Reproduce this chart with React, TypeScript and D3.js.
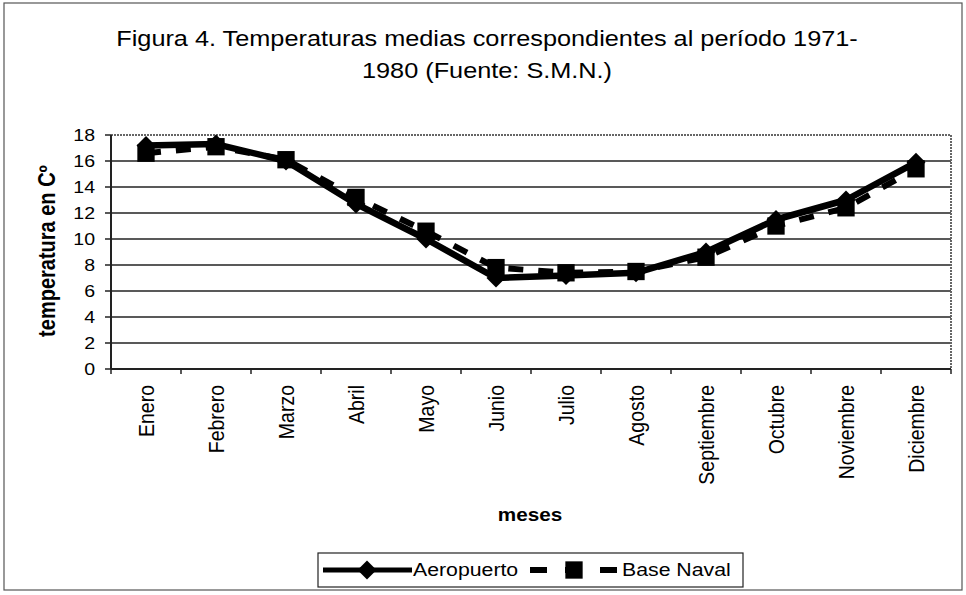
import React from 'react';
import * as d3 from 'd3';

const months = ['Enero', 'Febrero', 'Marzo', 'Abril', 'Mayo', 'Junio', 'Julio', 'Agosto', 'Septiembre', 'Octubre', 'Noviembre', 'Diciembre'];
const aeropuerto = [17.2, 17.3, 16.0, 12.7, 10.0, 7.0, 7.2, 7.4, 9.0, 11.5, 13.0, 15.9];
const baseNaval = [16.6, 17.1, 16.1, 13.2, 10.6, 7.8, 7.4, 7.5, 8.6, 11.0, 12.4, 15.4];
const yTicks = [0, 2, 4, 6, 8, 10, 12, 14, 16, 18];
const titleLines = ['Figura 4. Temperaturas medias correspondientes al período 1971-', '1980 (Fuente: S.M.N.)'];

const W = 966;
const H = 595;
const plot = { left: 111, right: 951, top: 135, bottom: 369 };
const SX = 1.15; // the scanned figure is a bit wider than tall
const FONT = 'Arial, "Liberation Sans", Helvetica, sans-serif';

const x = d3.scaleBand<string>().domain(months).range([plot.left, plot.right]);
const y = d3.scaleLinear().domain([0, 18]).range([plot.bottom, plot.top]);
const cx = (m: string) => (x(m) ?? 0) + x.bandwidth() / 2;

const line = d3
  .line<number>()
  .x((_, i) => cx(months[i]))
  .y(d => y(d));

const diamond = d3.symbol().type(d3.symbolSquare).size(180)()!;
const square = d3.symbol().type(d3.symbolSquare).size(300)()!;

const Txt: React.FC<{
  x: number;
  y: number;
  size: number;
  anchor?: string;
  bold?: boolean;
  rotate?: number;
  children: React.ReactNode;
}> = ({ x, y, size, anchor = 'start', bold, rotate = 0, children }) => (
  <g transform={`translate(${x},${y}) scale(${SX},1) rotate(${rotate})`}>
    <text
      textAnchor={anchor}
      fontSize={size}
      fontWeight={bold ? 'bold' : 'normal'}
      fontFamily={FONT}
      fill="#000"
      dy="0.35em"
    >
      {children}
    </text>
  </g>
);

const App: React.FC = () => {
  const xTicks = [...months.map(m => x(m) ?? 0), plot.right];

  return (
    <svg width={W} height={H} style={{ position: 'absolute', left: 0, top: 0, background: '#fff' }}>
      {/* outer frame */}
      <rect x={4} y={3} width={958} height={587} fill="#fff" stroke="#555" strokeWidth={1.2} />

      {/* title */}
      {titleLines.map((t, i) => (
        <Txt key={i} x={487} y={38 + i * 32} size={22} anchor="middle">
          {t}
        </Txt>
      ))}

      {/* grid */}
      {yTicks.slice(1, -1).map(t => (
        <line key={t} x1={plot.left} x2={plot.right} y1={y(t)} y2={y(t)} stroke="#222" strokeWidth={1.6} />
      ))}
      {/* plot border (top/right) */}
      <line x1={plot.left} x2={plot.right} y1={y(18)} y2={y(18)} stroke="#666" strokeWidth={2} strokeDasharray="2,1" />
      <line x1={plot.right} x2={plot.right} y1={plot.top} y2={plot.bottom} stroke="#666" strokeWidth={2} strokeDasharray="2,1" />

      {/* y axis */}
      <line x1={plot.left} x2={plot.left} y1={plot.top} y2={plot.bottom} stroke="#222" strokeWidth={2} />
      {yTicks.map(t => (
        <g key={t}>
          <line x1={plot.left - 6} x2={plot.left} y1={y(t)} y2={y(t)} stroke="#222" strokeWidth={1.5} />
          <Txt x={95} y={y(t)} size={17} anchor="end">
            {t}
          </Txt>
        </g>
      ))}
      <Txt x={47} y={251} size={20} anchor="middle" bold rotate={-90}>
        temperatura en Cº
      </Txt>

      {/* x axis */}
      <line x1={plot.left} x2={plot.right} y1={plot.bottom} y2={plot.bottom} stroke="#222" strokeWidth={2} />
      {xTicks.map((t, i) => (
        <line key={i} x1={t} x2={t} y1={plot.bottom} y2={plot.bottom + 5} stroke="#222" strokeWidth={1.5} />
      ))}
      {months.map(m => (
        <Txt key={m} x={cx(m)} y={385} size={19.5} anchor="end" rotate={-90}>
          {m}
        </Txt>
      ))}
      <Txt x={530} y={515} size={18} anchor="middle" bold>
        meses
      </Txt>

      {/* series */}
      <path d={line(aeropuerto) ?? ''} fill="none" stroke="#000" strokeWidth={6.5} strokeLinejoin="round" />
      {aeropuerto.map((v, i) => (
        <path key={i} d={diamond} transform={`translate(${cx(months[i])},${y(v)}) rotate(45)`} fill="#000" />
      ))}
      <path d={line(baseNaval) ?? ''} fill="none" stroke="#000" strokeWidth={6} strokeDasharray="15,15" />
      {baseNaval.map((v, i) => (
        <path key={i} d={square} transform={`translate(${cx(months[i])},${y(v)})`} fill="#000" />
      ))}

      {/* legend */}
      <rect x={318} y={553} width={425} height={34} fill="#fff" stroke="#222" strokeWidth={1.2} />
      <line x1={323} x2={412} y1={570} y2={570} stroke="#000" strokeWidth={5} />
      <path d={diamond} transform="translate(367,570) rotate(45)" fill="#000" />
      <Txt x={413} y={570} size={18.5}>
        Aeropuerto
      </Txt>
      <line x1={530} x2={619} y1={570} y2={570} stroke="#000" strokeWidth={6} strokeDasharray="17,18" />
      <path d={square} transform="translate(574,570)" fill="#000" />
      <Txt x={622} y={570} size={18.5}>
        Base Naval
      </Txt>
    </svg>
  );
};

export default App;
